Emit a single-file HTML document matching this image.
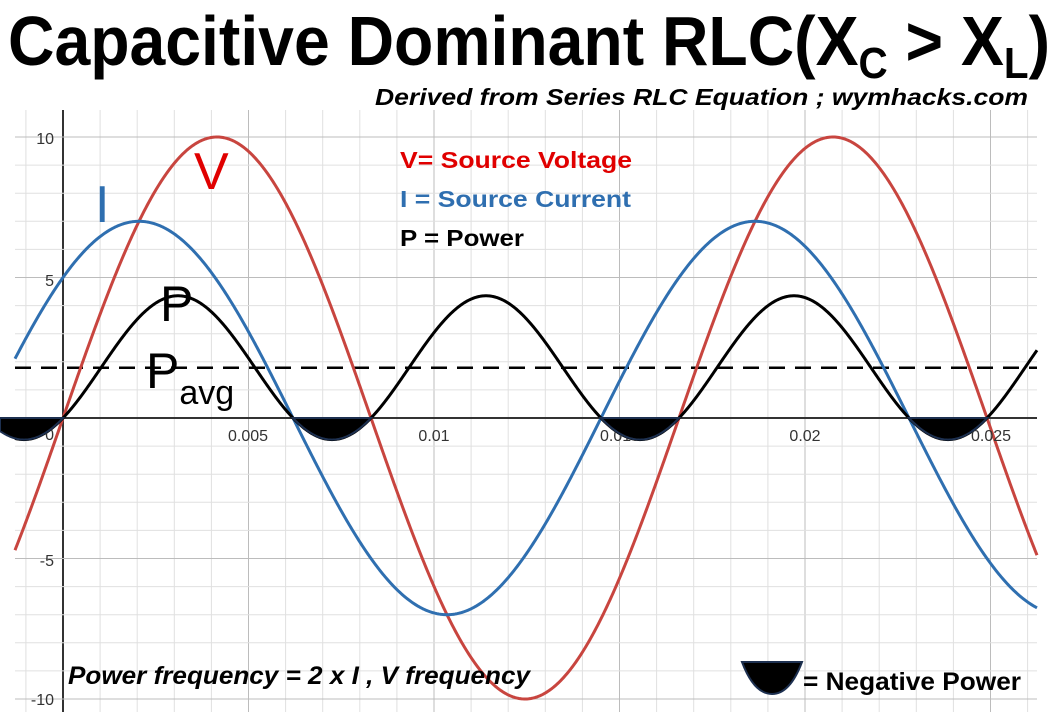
<!DOCTYPE html>
<html><head><meta charset="utf-8"><style>
html,body{margin:0;padding:0;background:#fff;}
svg{display:block}
</style></head><body>
<svg id="s" width="1060" height="712" xmlns="http://www.w3.org/2000/svg" font-family="Liberation Sans, sans-serif">
<rect width="1060" height="712" fill="#fff"/>
<g id="grid"></g>
<g id="curves"></g>
<g font-size="16" fill="#333">
<text x="54" y="144" text-anchor="end">10</text>
<text x="54" y="286" text-anchor="end">5</text>
<text x="54" y="566" text-anchor="end">-5</text>
<text x="54" y="705" text-anchor="end">-10</text>
<text x="54" y="440" text-anchor="end">0</text>
<text x="248" y="441" text-anchor="middle">0.005</text>
<text x="434" y="441" text-anchor="middle">0.01</text>
<text x="620" y="441" text-anchor="middle">0.015</text>
<text x="805" y="441" text-anchor="middle">0.02</text>
<text x="991" y="441" text-anchor="middle">0.025</text>
</g>
<g id="blobs"></g>
<text x="8" y="65" font-size="70" font-weight="bold" textLength="1042" lengthAdjust="spacingAndGlyphs">Capacitive Dominant RLC(X<tspan font-size="44" dy="13">C</tspan><tspan dy="-13"> &gt; X</tspan><tspan font-size="44" dy="13">L</tspan><tspan dy="-13">)</tspan></text>
<text x="375" y="105" font-size="23" font-weight="bold" font-style="italic" textLength="653" lengthAdjust="spacingAndGlyphs">Derived from Series RLC Equation ;  wymhacks.com</text>
<g font-size="23" font-weight="bold">
<text x="400" y="168" fill="#e00000" textLength="232" lengthAdjust="spacingAndGlyphs">V= Source Voltage</text>
<text x="400" y="207" fill="#2f6fb0" textLength="231" lengthAdjust="spacingAndGlyphs">I = Source Current</text>
<text x="400" y="246" fill="#000" textLength="124" lengthAdjust="spacingAndGlyphs">P = Power</text>
</g>
<text x="194" y="189" font-size="52" fill="#e00000">V</text>
<text x="95" y="222" font-size="52" fill="#2f6fb0">I</text>
<text x="160" y="321" font-size="50" fill="#000">P</text>
<text x="146" y="388" font-size="50" fill="#000">P<tspan font-size="34" dy="16">avg</tspan></text>
<text x="68" y="684" font-size="25" font-weight="bold" font-style="italic" textLength="462" lengthAdjust="spacingAndGlyphs">Power frequency = 2 x I , V frequency</text>
<path d="M742 662 L802 662 Q790 694 772 694 Q754 694 742 662 Z" fill="#000" stroke="#1d3050" stroke-width="2"/>
<text x="803" y="690" font-size="25" font-weight="bold" textLength="218" lengthAdjust="spacingAndGlyphs">= Negative Power</text>
</svg>
<script>
(function(){
var X0=63,Y0=418,UX=37.1,UY=28.1,L=15,R=1037,T=110,B=712;
var g="";
for(var n=-1;n<=26;n++){var x=X0+n*UX;if(x<L||x>R)continue;
 var maj=(n%5==0);g+='<line x1="'+x+'" y1="'+T+'" x2="'+x+'" y2="'+B+'" stroke="'+(n==0?'#333':(maj?'#bcbcbc':'#e0e0e0'))+'" stroke-width="'+(n==0?2:1)+'"/>';}
for(var m=-11;m<=11;m++){var y=Y0-m*UY;if(y<T||y>B)continue;
 var maj=(m%5==0);g+='<line x1="'+L+'" y1="'+y+'" x2="'+R+'" y2="'+y+'" stroke="'+(m==0?'#333':(maj?'#bcbcbc':'#e0e0e0'))+'" stroke-width="'+(m==0?2:1)+'"/>';}
document.getElementById('grid').innerHTML=g;
var P=616;
function V(x){return 10*Math.sin(2*Math.PI*(x-63)/P);}
function I(x){return 7*Math.sin(2*Math.PI*(x-63+78)/P);}
function Pw(x){return 0.0731*V(x)*I(x);}
function path(f,a,b){var s="";for(var x=a;x<=b;x+=1){s+=(x==a?"M":"L")+x+" "+(Y0-f(x)*UY).toFixed(2)+" ";}return s;}
var c="";
c+='<line x1="'+L+'" y1="'+(Y0-1.79*UY)+'" x2="'+R+'" y2="'+(Y0-1.79*UY)+'" stroke="#000" stroke-width="2.5" stroke-dasharray="16,10"/>';
c+='<path d="'+path(V,L,R)+'" fill="none" stroke="#c8453f" stroke-width="3"/>';
c+='<path d="'+path(I,L,R)+'" fill="none" stroke="#2f6fb0" stroke-width="3"/>';
c+='<path d="'+path(Pw,L,R)+'" fill="none" stroke="#000" stroke-width="3"/>';
document.getElementById('curves').innerHTML=c;
var b="";
[-15,293,601,909].forEach(function(s){var a=Math.max(s,0),e=s+78;var d="M"+a+" "+Y0+" ";
 for(var x=a;x<=e;x++){d+="L"+x+" "+(Y0-Pw(x)*UY).toFixed(2)+" ";}
 d+="L"+e+" "+Y0+" Z";b+='<path d="'+d+'" fill="#000" stroke="#1d3050" stroke-width="2"/>';});
document.getElementById('blobs').innerHTML=b;
})();
</script>
</body></html>
